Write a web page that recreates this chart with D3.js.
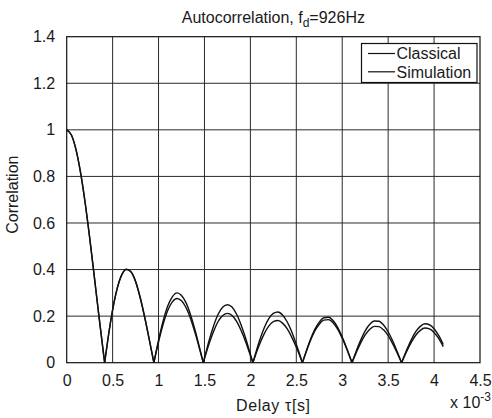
<!DOCTYPE html>
<html>
<head>
<meta charset="utf-8">
<script src="https://cdn.jsdelivr.net/npm/d3@7"></script>
<style>
  html, body { margin: 0; padding: 0; background: #fff; }
  svg { display: block; font-family: "Liberation Sans", Arial, Helvetica, sans-serif; }
</style>
</head>
<body>
<svg id="chart" width="492" height="418"></svg>
<script>
// ---- data (delay in units of 1e-3 s) ----
const delay = [0,0.05,0.10,0.15,0.20,0.25,0.30,0.35,0.40,0.413,
  0.45,0.50,0.55,0.60,0.65,0.70,0.75,0.80,0.85,0.90,0.949,
  1.00,1.05,1.10,1.15,1.20,1.25,1.30,1.35,1.40,1.45,1.487,
  1.50,1.55,1.60,1.65,1.70,1.75,1.80,1.85,1.90,1.95,2.00,2.027,
  2.05,2.10,2.15,2.20,2.25,2.30,2.35,2.40,2.45,2.50,2.55,2.566,
  2.60,2.65,2.70,2.75,2.80,2.85,2.90,2.95,3.00,3.05,3.106,
  3.15,3.20,3.25,3.30,3.35,3.40,3.45,3.50,3.55,3.60,3.646,
  3.70,3.75,3.80,3.85,3.90,3.95,4.00,4.05,4.10];

const classical = [1.000,0.979,0.917,0.818,0.689,0.537,0.372,0.203,0.041,0,
  0.105,0.228,0.320,0.379,0.402,0.391,0.350,0.281,0.195,0.098,0,
  0.097,0.179,0.243,0.283,0.300,0.289,0.257,0.204,0.136,0.059,0,
  0.020,0.095,0.159,0.209,0.239,0.249,0.239,0.208,0.161,0.103,0.036,0,
  0.031,0.095,0.149,0.189,0.212,0.218,0.205,0.176,0.133,0.079,0.020,0,
  0.040,0.096,0.142,0.174,0.193,0.195,0.181,0.152,0.110,0.061,0,
  0.047,0.096,0.137,0.165,0.179,0.178,0.162,0.133,0.093,0.046,0,
  0.053,0.097,0.133,0.156,0.167,0.163,0.146,0.117,0.078];

const simulation = [1.000,0.979,0.917,0.818,0.689,0.537,0.372,0.203,0.041,0,
  0.104,0.226,0.318,0.377,0.400,0.390,0.348,0.279,0.193,0.097,0,
  0.089,0.165,0.224,0.261,0.276,0.266,0.236,0.188,0.125,0.054,0,
  0.017,0.081,0.135,0.178,0.203,0.212,0.203,0.177,0.137,0.088,0.031,0,
  0.026,0.079,0.124,0.157,0.176,0.181,0.170,0.146,0.110,0.066,0.017,0,
  0.038,0.091,0.135,0.165,0.183,0.185,0.172,0.144,0.105,0.058,0,
  0.041,0.084,0.119,0.144,0.156,0.155,0.141,0.116,0.081,0.040,0,
  0.047,0.086,0.118,0.139,0.149,0.145,0.130,0.104,0.069];

const seriesNames = ["Classical", "Simulation"];
const xTicks = [0,0.5,1,1.5,2,2.5,3,3.5,4,4.5];
const yTicks = [0,0.2,0.4,0.6,0.8,1,1.2,1.4];

// ---- layout ----
const svg = d3.select("#chart");
const L = 66.7, R = 480, T = 36.7, B = 362.7;
const FS = 16;
const INK = "#1a1a1a";
const x = d3.scaleLinear().domain([0, 4.5]).range([L, R]);
const y = d3.scaleLinear().domain([0, 1.4]).range([B, T]);

svg.append("rect").attr("width", 492).attr("height", 418).attr("fill", "#fff");

// grid
const grid = svg.append("g").attr("stroke", "#2a2a2a").attr("stroke-width", 1);
grid.selectAll("line.vx").data(xTicks.slice(1, -1)).join("line")
  .attr("x1", d => x(d)).attr("x2", d => x(d)).attr("y1", T).attr("y2", B);
grid.selectAll("line.hy").data(yTicks.slice(1, -1)).join("line")
  .attr("y1", d => y(d)).attr("y2", d => y(d)).attr("x1", L).attr("x2", R);

// axes labels via d3 axes
const fmt = d => String(+d.toFixed(1));
const xAxis = svg.append("g").attr("transform", `translate(0,${B})`)
  .call(d3.axisBottom(x).tickValues(xTicks).tickSize(0).tickPadding(12).tickFormat(fmt));
const yAxis = svg.append("g").attr("transform", `translate(${L},0)`)
  .call(d3.axisLeft(y).tickValues(yTicks).tickSize(0).tickPadding(11.5).tickFormat(fmt));
[xAxis, yAxis].forEach(a => {
  a.select(".domain").remove();
  a.selectAll("text").attr("font-size", FS).attr("fill", INK)
    .attr("font-family", "Liberation Sans, Arial, sans-serif");
});

// curves, split into lobes at zeros so cusps stay sharp
const line = d3.line().x(d => x(d[0])).y(d => y(d[1])).curve(d3.curveMonotoneX);
function lobes(vals) {
  const segs = []; let cur = [];
  delay.forEach((t, i) => {
    cur.push([t, vals[i]]);
    if (vals[i] === 0 && cur.length > 1) { segs.push(cur); cur = [[t, 0]]; }
  });
  if (cur.length > 1) segs.push(cur);
  return segs;
}
const plot = svg.append("g").attr("fill", "none").attr("stroke", "#111").attr("stroke-width", 1.4);
[classical, simulation].forEach(vals => {
  plot.append("g").selectAll("path").data(lobes(vals)).join("path").attr("d", line);
});

// frame
svg.append("rect").attr("x", L).attr("y", T).attr("width", R - L).attr("height", B - T)
  .attr("fill", "none").attr("stroke", "#111").attr("stroke-width", 1.2);

// legend
const lg = svg.append("g");
lg.append("rect").attr("x", 361.5).attr("y", 43.5).attr("width", 115.5).attr("height", 39)
  .attr("fill", "#fff").attr("stroke", "#111").attr("stroke-width", 1.2);
seriesNames.forEach((n, i) => {
  const yy = 53.5 + i * 18.3;
  lg.append("line").attr("x1", 368).attr("x2", 395).attr("y1", yy).attr("y2", yy)
    .attr("stroke", "#111").attr("stroke-width", 1.2);
  lg.append("text").attr("x", 396.5).attr("y", yy + 5.8).attr("font-size", FS)
    .attr("fill", INK).text(n);
});

// title
const title = svg.append("text").attr("x", (L + R) / 2).attr("y", 23)
  .attr("text-anchor", "middle").attr("font-size", FS).attr("fill", INK);
title.append("tspan").text("Autocorrelation, f");
title.append("tspan").attr("font-size", 12).attr("dy", 4).text("d");
title.append("tspan").attr("dy", -4).text("=926Hz");

// axis titles
svg.append("text").attr("x", (L + R) / 2).attr("y", 411).attr("text-anchor", "middle")
  .attr("font-size", FS).attr("letter-spacing", 0.6).attr("fill", INK).text("Delay \u03C4[s]");
svg.append("text").attr("transform", `translate(18,${(T + B) / 2 - 5}) rotate(-90)`)
  .attr("text-anchor", "middle").attr("font-size", FS).attr("fill", INK).text("Correlation");

// exponent label
const ex = svg.append("text").attr("x", 491).attr("y", 408).attr("text-anchor", "end")
  .attr("font-size", FS).attr("fill", INK);
ex.append("tspan").text("x 10");
ex.append("tspan").attr("font-size", 12).attr("dy", -7).text("-3");
</script>
</body>
</html>
